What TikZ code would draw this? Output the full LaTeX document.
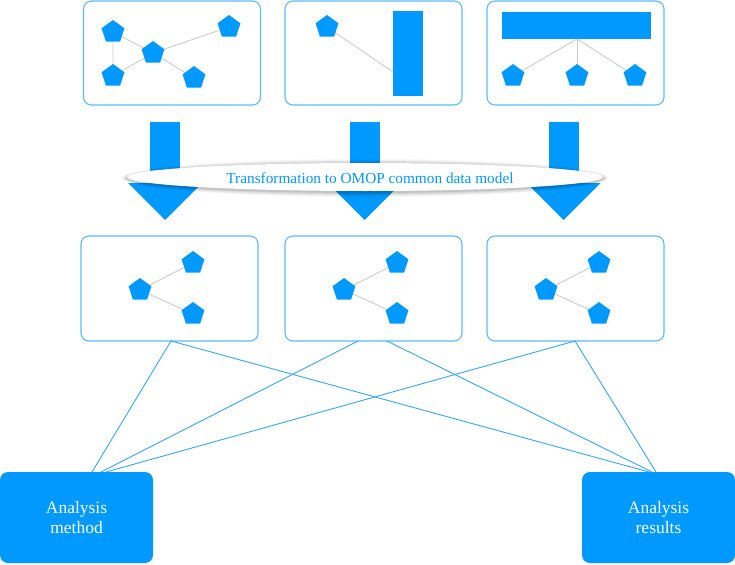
\documentclass[tikz,border=0pt]{standalone}
\usepackage{fontspec}
\setmainfont{Liberation Serif}
\usetikzlibrary{shapes.geometric}
\definecolor{cblue}{HTML}{0099FF}
\definecolor{bord}{HTML}{5CBBFF}
\definecolor{lnk}{HTML}{33A6FF}
\definecolor{edg}{HTML}{CCCCCC}
\begin{document}
\begin{tikzpicture}[x=1pt,y=-1pt,
  pent/.style={regular polygon, regular polygon sides=5, fill=cblue, minimum size=24pt, inner sep=0pt},
  frame/.style={draw=bord, line width=1.1pt, rounded corners=8pt, minimum width=177pt, minimum height=104pt, inner sep=0pt},
  gedge/.style={draw=edg, line width=0.9pt},
  link/.style={draw=lnk, line width=0.9pt},
  bigbox/.style={fill=cblue, rounded corners=8pt, minimum width=153pt, minimum height=91pt, text=white, font=\fontsize{17.5}{20}\selectfont, align=center, inner sep=0pt},
  barrow/.style={fill=cblue}]
\useasboundingbox (0,0) rectangle (735,564);

% ---------- top frames ----------
\node[frame] (t1) at (172,53) {};
\node[frame] (t2) at (373.5,53) {};
\node[frame] (t3) at (575.5,53) {};

% top frame 1: network
\coordinate (a1) at (113,32);
\coordinate (a2) at (153,53);
\coordinate (a3) at (229,27);
\coordinate (a4) at (113,76);
\coordinate (a5) at (194,78);
\draw[gedge] (a1) -- (a4) (a1) -- (a2) (a4) -- (a2) (a2) -- (a3) (a2) -- (a5);
\foreach \p in {a1,a2,a3,a4,a5} \node[pent] (n\p) at (\p) {};

% top frame 2
\node[fill=cblue, minimum width=30pt, minimum height=85pt, inner sep=0pt] (b2) at (408,53.5) {};
\coordinate (b2e) at (393,72);
\draw[gedge] (327,27) -- (b2e);
\node[pent] (b1) at (327,27) {};

% top frame 3
\node[fill=cblue, minimum width=149pt, minimum height=27pt, inner sep=0pt] (c0) at (576.5,25.5) {};
\coordinate (c0s) at (577,39);
\foreach \x/\n in {513/c1,577/c2,635/c3}{
  \draw[gedge] (c0s) -- (\x,76);
  \node[pent] (\n) at (\x,76) {};
}

% ---------- big arrows ----------
\foreach \cx in {165,364.5,563.5}{
  \fill[barrow] (\cx-15,122) rectangle (\cx+15,186);
  \fill[barrow] (\cx-37,183) -- (\cx+37,183) -- (\cx,220) -- cycle;
}

% ---------- ellipse label ----------
\foreach \k/\o in {5/0.03,4/0.04,3/0.05,2/0.06,1/0.08}{
  \fill[black, opacity=\o] (365,178) ellipse ({238+\k} and {14+\k});
}
\node[ellipse, fill=white, minimum width=476pt, minimum height=28pt, inner sep=0pt] (tr) at (365,177) {};
\node[anchor=base, text=cblue, font=\fontsize{15.3}{18}\selectfont, inner sep=0pt] (trt) at (370,183) {Transformation to OMOP common data model};

% ---------- middle frames ----------
\node[frame, minimum height=105pt] (m1) at (169.5,288.5) {};
\node[frame, minimum height=105pt] (m2) at (373.5,288.5) {};
\node[frame, minimum height=105pt] (m3) at (575.5,288.5) {};
\foreach \dx/\n in {0/p,204/q,406/r}{
  \draw[gedge] (140+\dx,290) -- (193+\dx,263) (140+\dx,290) -- (193+\dx,314);
  \node[pent] (\n1) at (140+\dx,290) {};
  \node[pent] (\n2) at (193+\dx,263) {};
  \node[pent] (\n3) at (193+\dx,314) {};
}

% ---------- bottom boxes ----------
\node[bigbox] (am) at (76.5,517.5) {Analysis\\method};
\node[bigbox] (ar) at (658.5,517.5) {Analysis\\results};

% ---------- connectors ----------
\coordinate (m1b) at (171,341);
\coordinate (m2l) at (358,341);
\coordinate (m2r) at (387,341);
\coordinate (m3b) at (575,341);
\coordinate (amA) at (92,472);
\coordinate (amB) at (101,472);
\coordinate (amC) at (106,472);
\coordinate (arA) at (649,472);
\coordinate (arB) at (652,472);
\coordinate (arC) at (656,472);
\draw[link] (m1b) -- (amA);
\draw[link] (m1b) -- (arA);
\draw[link] (m2l) -- (amB);
\draw[link] (m2r) -- (arB);
\draw[link] (m3b) -- (amC);
\draw[link] (m3b) -- (arC);
\end{tikzpicture}
\end{document}
